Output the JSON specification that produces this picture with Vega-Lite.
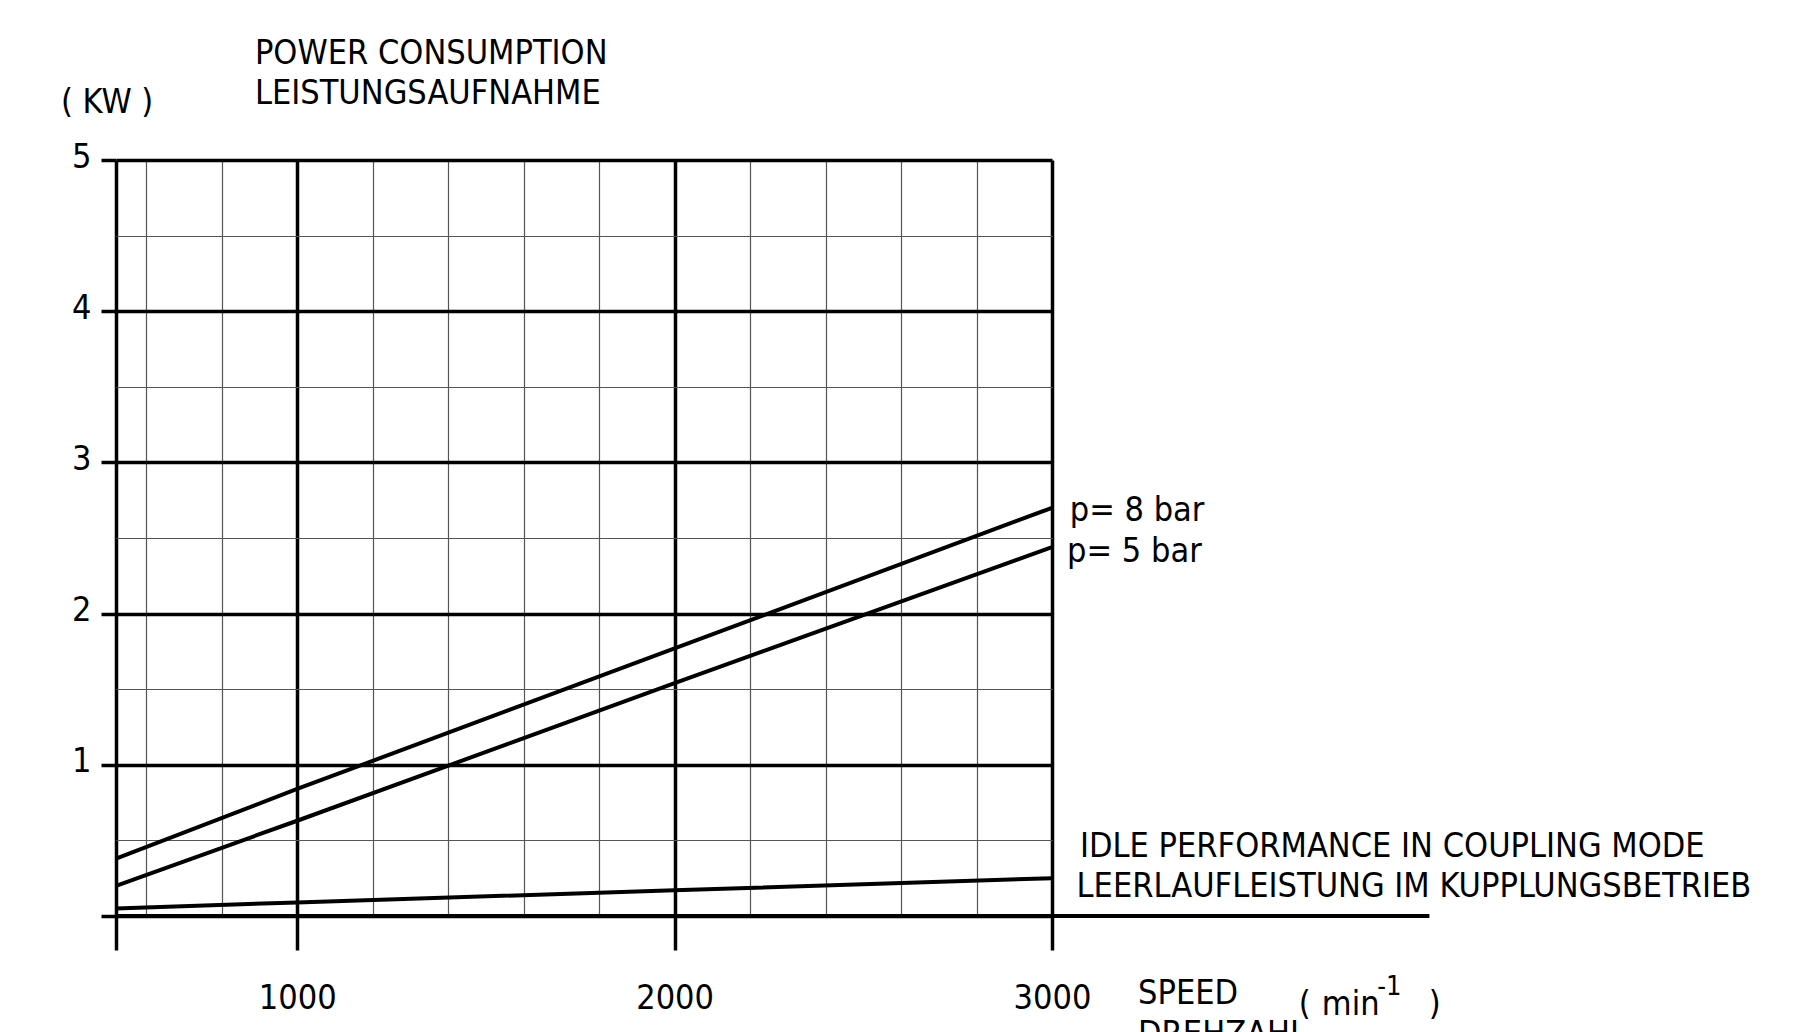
{
  "$schema": "https://vega.github.io/schema/vega-lite/v6.json",
  "autosize": "none",
  "padding": {"left": 116, "top": 160, "right": 750, "bottom": 116},
  "width": 936,
  "height": 756,
  "background": "white",
  "config": {
    "view": {"stroke": null},
    "font": "DejaVu Sans Condensed, DejaVu Sans, sans-serif",
    "text": {"font": "DejaVu Sans Condensed, DejaVu Sans, sans-serif"}
  },
  "datasets": {
    "curves": [
      {"series": "p= 8 bar", "speed": 520, "power": 0.38},
      {"series": "p= 8 bar", "speed": 1000, "power": 0.84},
      {"series": "p= 8 bar", "speed": 2000, "power": 1.77},
      {"series": "p= 8 bar", "speed": 3000, "power": 2.70},
      {"series": "p= 5 bar", "speed": 520, "power": 0.20},
      {"series": "p= 5 bar", "speed": 1000, "power": 0.63},
      {"series": "p= 5 bar", "speed": 2000, "power": 1.54},
      {"series": "p= 5 bar", "speed": 3000, "power": 2.44},
      {"series": "idle", "speed": 520, "power": 0.05},
      {"series": "idle", "speed": 1000, "power": 0.09},
      {"series": "idle", "speed": 2000, "power": 0.17},
      {"series": "idle", "speed": 3000, "power": 0.25}
    ],
    "baseline": [
      {"start": 520, "end": 4000, "power": 0}
    ],
    "labels": [
      {"text": "POWER CONSUMPTION", "speed": 888, "power": 5.635},
      {"text": "LEISTUNGSAUFNAHME", "speed": 888, "power": 5.37},
      {"text": "( KW )", "speed": 374, "power": 5.31},
      {"text": "p= 8 bar", "speed": 3047, "power": 2.61},
      {"text": "p= 5 bar", "speed": 3040, "power": 2.34},
      {"text": "IDLE PERFORMANCE IN COUPLING MODE", "speed": 3074, "power": 0.39},
      {"text": "LEERLAUFLEISTUNG IM KUPPLUNGSBETRIEB", "speed": 3065, "power": 0.126},
      {"text": "SPEED", "speed": 3228, "power": -0.58},
      {"text": "DREHZAHL", "speed": 3228, "power": -0.853},
      {"text": "(", "speed": 3654, "power": -0.655},
      {"text": "min", "speed": 3715, "power": -0.655},
      {"text": ")", "speed": 3998, "power": -0.655}
    ],
    "sup": [
      {"text": "-1", "speed": 3862, "power": -0.52}
    ]
  },
  "layer": [
    {
      "data": {"name": "curves"},
      "mark": {"type": "line", "color": "black", "strokeWidth": 4, "clip": false},
      "encoding": {
        "x": {
          "field": "speed", "type": "quantitative",
          "scale": {"domain": [520, 3000], "nice": false, "zero": false},
          "axis": {
            "title": null,
            "values": [520, 600, 800, 1000, 1200, 1400, 1600, 1800, 2000, 2200, 2400, 2600, 2800, 3000],
            "domain": false,
            "grid": true,
            "gridColor": {"condition": {"test": "datum.value == 520 || datum.value % 1000 == 0", "value": "black"}, "value": "#555555"},
            "gridWidth": {"condition": {"test": "datum.value == 520 || datum.value % 1000 == 0", "value": 3.5}, "value": 1.2},
            "gridOpacity": 1,
            "ticks": true,
            "tickSize": 34,
            "tickWidth": 3.5,
            "tickColor": "black",
            "tickOpacity": {"condition": {"test": "datum.value == 520 || datum.value % 1000 == 0", "value": 1}, "value": 0},
            "labelExpr": "datum.value % 1000 == 0 ? format(datum.value, 'd') : ''",
            "labelFontSize": 34,
            "labelColor": "black",
            "labelBaseline": "top",
            "labelPadding": 31,
            "labelFlush": false,
            "labelOverlap": false,
            "labelFont": "DejaVu Sans Condensed, DejaVu Sans, sans-serif"
          }
        },
        "y": {
          "field": "power", "type": "quantitative",
          "scale": {"domain": [0, 5], "nice": false, "zero": false},
          "axis": {
            "title": null,
            "values": [0, 0.5, 1, 1.5, 2, 2.5, 3, 3.5, 4, 4.5, 5],
            "domain": false,
            "grid": true,
            "gridColor": {"condition": {"test": "datum.value % 1 == 0", "value": "black"}, "value": "#555555"},
            "gridWidth": {"condition": {"test": "datum.value % 1 == 0", "value": 3.5}, "value": 1.2},
            "gridOpacity": 1,
            "ticks": true,
            "tickSize": 15,
            "tickWidth": 3.5,
            "tickColor": "black",
            "tickOpacity": {"condition": {"test": "datum.value % 1 == 0", "value": 1}, "value": 0},
            "labelExpr": "datum.value % 1 == 0 && datum.value > 0 ? format(datum.value, 'd') : ''",
            "labelFontSize": 34,
            "labelColor": "black",
            "labelPadding": 10,
            "labelOffset": -3,
            "labelFlush": false,
            "labelOverlap": false,
            "labelFont": "DejaVu Sans Condensed, DejaVu Sans, sans-serif"
          }
        },
        "detail": {"field": "series", "type": "nominal"}
      }
    },
    {
      "data": {"name": "baseline"},
      "mark": {"type": "rule", "color": "black", "strokeWidth": 4, "clip": false},
      "encoding": {
        "x": {"field": "start", "type": "quantitative"},
        "x2": {"field": "end"},
        "y": {"field": "power", "type": "quantitative"}
      }
    },
    {
      "data": {"name": "labels"},
      "mark": {"type": "text", "align": "left", "baseline": "alphabetic", "fontSize": 34, "color": "black", "clip": false},
      "encoding": {
        "x": {"field": "speed", "type": "quantitative"},
        "y": {"field": "power", "type": "quantitative"},
        "text": {"field": "text"}
      }
    },
    {
      "data": {"name": "sup"},
      "mark": {"type": "text", "align": "left", "baseline": "alphabetic", "fontSize": 27, "color": "black", "clip": false},
      "encoding": {
        "x": {"field": "speed", "type": "quantitative"},
        "y": {"field": "power", "type": "quantitative"},
        "text": {"field": "text"}
      }
    }
  ]
}
